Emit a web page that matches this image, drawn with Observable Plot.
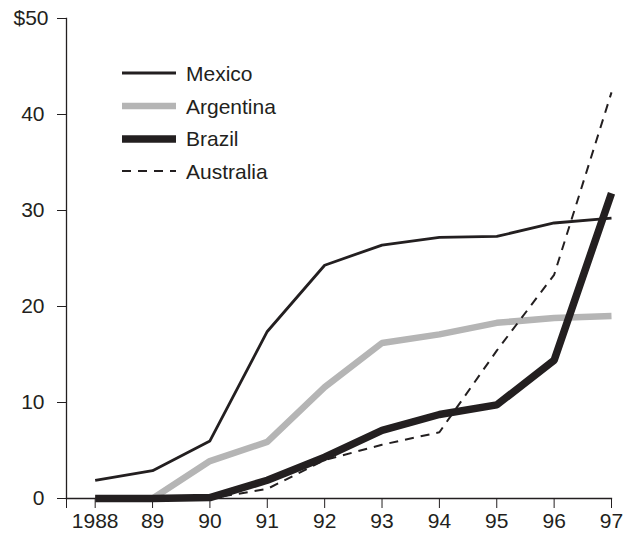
<!DOCTYPE html>
<html>
<head>
<meta charset="utf-8">
<script src="https://cdn.jsdelivr.net/npm/d3@7"></script>
<script src="https://cdn.jsdelivr.net/npm/@observablehq/plot@0.6"></script>
<style>
  html, body { margin: 0; padding: 0; background: #fff; overflow: hidden; }
  #wrap { position: relative; width: 627px; height: 534px; font-family: "Liberation Sans", Arial, sans-serif; }
  #wrap > svg { display: block; }
  #legend { position: absolute; left: 122px; top: 57px; }
  .row { display: flex; align-items: center; height: 32.7px; }
  .row svg { width: 54px; height: 12px; display: block; }
  .row span { margin-left: 10px; font-size: 21px; color: #231f20; line-height: 1; }
</style>
</head>
<body>
<div id="wrap"></div>
<script>
const years = [1988, 1989, 1990, 1991, 1992, 1993, 1994, 1995, 1996, 1997];
const mexico    = [1.9, 2.9, 6.0, 17.4, 24.3, 26.4, 27.2, 27.3, 28.7, 29.2];
const argentina = [0, 0, 3.9, 5.9, 11.6, 16.2, 17.1, 18.3, 18.8, 19.0];
const brazil    = [0, 0, 0.1, 1.9, 4.3, 7.1, 8.75, 9.75, 14.4, 31.8];
const australia = [0, 0, 0, 1.0, 4.0, 5.6, 6.9, 15.4, 23.3, 42.3];
const yTicks = [0, 10, 20, 30, 40];
const yTopTick = [50];
const xTicks = [1987.5, ...years];
const seriesNames = ["Mexico", "Argentina", "Brazil", "Australia"];

const ink = "#231f20";
const styles = {
  Mexico:    {stroke: ink, strokeWidth: 2.8, dash: null},
  Argentina: {stroke: "#b5b5b5", strokeWidth: 6.5, dash: null},
  Brazil:    {stroke: ink, strokeWidth: 7.5, dash: null},
  Australia: {stroke: ink, strokeWidth: 2, dash: "9,7"}
};
const values = {Mexico: mexico, Argentina: argentina, Brazil: brazil, Australia: australia};
const data = name => years.map((y, i) => ({year: y, value: values[name][i]}));
const drawOrder = ["Argentina", "Mexico", "Australia", "Brazil"];
const fs = 21;

const chart = Plot.plot({
  width: 627,
  height: 534,
  marginLeft: 66,
  marginRight: 16,
  marginTop: 18,
  marginBottom: 36,
  style: {fontFamily: "'Liberation Sans', Arial, sans-serif", fontSize: fs + "px", color: ink, background: "#fff"},
  x: {domain: [1987.5, 1997]},
  y: {domain: [0, 50]},
  marks: [
    Plot.frame({anchor: "left", stroke: ink, strokeWidth: 1.3}),
    Plot.frame({anchor: "bottom", stroke: ink, strokeWidth: 1.3}),
    Plot.axisY({ticks: yTicks, tickSize: 9, tickPadding: 13, fontSize: fs, tickFormat: d => String(d), label: null, stroke: ink, fill: ink}),
    Plot.axisY({ticks: yTopTick, tickSize: 9, tickPadding: 9, fontSize: fs, tickFormat: d => "$" + d, label: null, stroke: ink, fill: ink}),
    Plot.axisX({ticks: xTicks, tickSize: 10, tickPadding: 5, fontSize: fs, tickFormat: d => d === 1987.5 ? "" : (d === 1988 ? "1988" : String(d).slice(2)), label: null, stroke: ink, fill: ink}),
    ...drawOrder.map(name => Plot.line(data(name), {
      x: "year", y: "value",
      stroke: styles[name].stroke,
      strokeWidth: styles[name].strokeWidth,
      strokeDasharray: styles[name].dash,
      strokeLinecap: "butt",
      strokeLinejoin: "miter"
    }))
  ]
});

const wrap = document.getElementById("wrap");
wrap.appendChild(chart);

const legend = document.createElement("div");
legend.id = "legend";
for (const name of seriesNames) {
  const s = styles[name];
  const row = document.createElement("div");
  row.className = "row";
  row.innerHTML = `<svg viewBox="0 0 54 12"><line x1="0" x2="54" y1="6" y2="6" stroke="${s.stroke}" stroke-width="${s.strokeWidth}" ${s.dash ? `stroke-dasharray="${s.dash}"` : ""}/></svg><span>${name}</span>`;
  legend.appendChild(row);
}
wrap.appendChild(legend);
</script>
</body>
</html>
